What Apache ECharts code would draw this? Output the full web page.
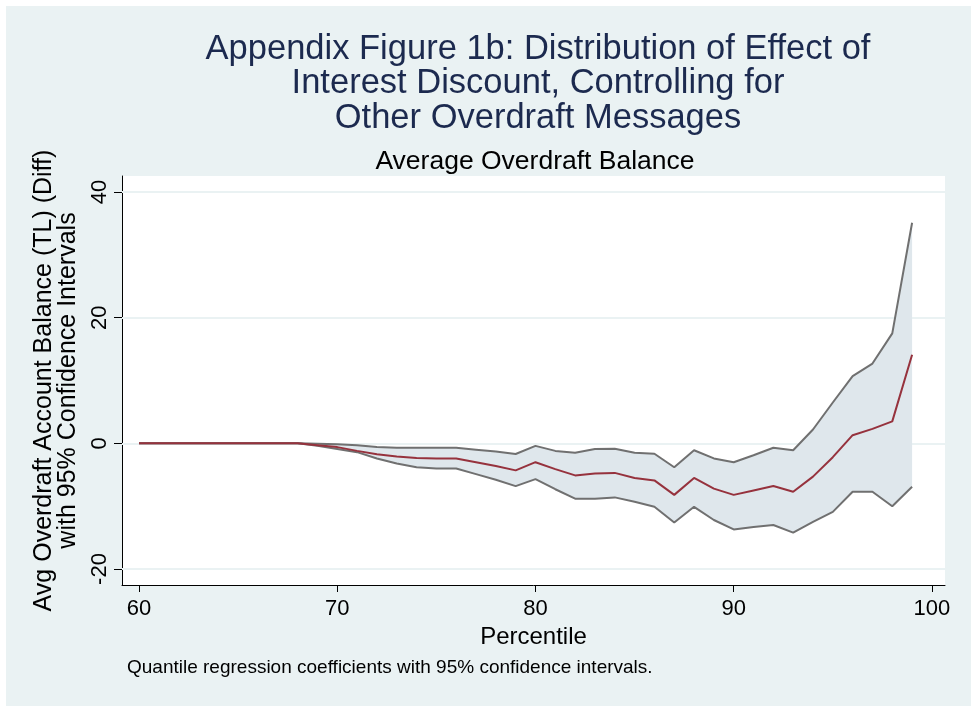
<!DOCTYPE html>
<html>
<head>
<meta charset="utf-8">
<script src="https://cdn.jsdelivr.net/npm/echarts@6/dist/echarts.min.js"></script>
<style>
html,body{margin:0;padding:0;background:#ffffff;}
#chart{width:971px;height:706px;}
</style>
</head>
<body>
<div id="chart"></div>
<script>
// Percentiles
const percentiles = [60,61,62,63,64,65,66,67,68,69,70,71,72,73,74,75,76,77,78,79,80,81,82,83,84,85,86,87,88,89,90,91,92,93,94,95,96,97,98,99];
// Quantile regression coefficient
const coef = [0,0,0,0,0,0,0,0,0,-0.3,-0.6,-1.2,-1.75,-2.1,-2.35,-2.4,-2.4,-3.0,-3.6,-4.3,-3.0,-4.1,-5.1,-4.8,-4.7,-5.5,-5.9,-8.2,-5.5,-7.2,-8.2,-7.5,-6.8,-7.7,-5.3,-2.2,1.3,2.3,3.5,14.1];
// Upper 95% CI
const upper = [0,0,0,0,0,0,0,0,0,-0.05,-0.16,-0.3,-0.6,-0.7,-0.7,-0.7,-0.7,-1.0,-1.3,-1.7,-0.4,-1.2,-1.5,-0.9,-0.85,-1.5,-1.65,-3.8,-1.1,-2.4,-3.0,-1.9,-0.7,-1.1,2.2,6.5,10.7,12.7,17.5,35.1];
// Lower 95% CI
const lower = [0,0,0,0,0,0,0,0,0,-0.4,-0.9,-1.4,-2.4,-3.2,-3.8,-4.0,-4.0,-4.9,-5.8,-6.8,-5.7,-7.3,-8.8,-8.8,-8.6,-9.3,-10.1,-12.6,-10.1,-12.2,-13.7,-13.3,-13.0,-14.2,-12.5,-10.9,-7.7,-7.7,-10.0,-6.9];
// Tick labels
const xTicks = [60,70,80,90,100];
const yTicks = [-20,0,20,40];

const FONT = 'Liberation Sans, Arial, sans-serif';
const pair = (arr) => percentiles.map((p,i) => [p, arr[i]]);

const chart = echarts.init(document.getElementById('chart'), null, {renderer:'canvas'});
chart.setOption({
  animation: false,
  backgroundColor: '#eaf2f3',
  textStyle: {fontFamily: FONT},
  title: [
    {
      text: 'Appendix Figure 1b: Distribution of Effect of\nInterest Discount, Controlling for\nOther Overdraft Messages',
      left: 533, top: 27, textAlign: 'center',
      textStyle: {fontFamily: FONT, fontSize: 34.5, fontWeight: 'normal', color: '#1c2a4f', lineHeight: 34.5}
    },
    {
      text: 'Average Overdraft Balance',
      left: 530, top: 143, textAlign: 'center',
      textStyle: {fontFamily: FONT, fontSize: 26.5, fontWeight: 'normal', color: '#000000'}
    }
  ],
  grid: {left: 122, right: 26, top: 176, bottom: 121, show: true, backgroundColor: '#ffffff', borderWidth: 0},
  xAxis: {
    type: 'value', min: 59.14, max: 100.66,
    name: 'Percentile', nameLocation: 'middle', nameGap: 39,
    nameTextStyle: {fontFamily: FONT, fontSize: 24, color: '#000'},
    axisLine: {show: true, onZero: false, lineStyle: {color: '#000', width: 1}},
    axisTick: {show: true, customValues: xTicks, length: 7, lineStyle: {color: '#000'}},
    axisLabel: {show: true, customValues: xTicks, fontFamily: FONT, fontSize: 22, color: '#000', margin: 13},
    splitLine: {show: false}
  },
  yAxis: {
    type: 'value', min: -22.54, max: 42.54,
    name: 'Avg Overdraft Account Balance (TL) (Diff)\nwith 95% Confidence Intervals',
    nameLocation: 'middle', nameRotate: 90, nameGap: 42,
    nameTextStyle: {fontFamily: FONT, fontSize: 25, color: '#000', lineHeight: 24},
    axisLine: {show: true, onZero: false, lineStyle: {color: '#000', width: 1}},
    axisTick: {show: true, customValues: yTicks, length: 8, lineStyle: {color: '#000'}},
    axisLabel: {show: true, customValues: yTicks, rotate: 90, fontFamily: FONT, fontSize: 22, color: '#000', margin: 11},
    splitLine: {show: false}
  },
  series: [
    {
      type: 'custom', name: 'band', silent: true, z: 2,
      data: [0],
      clip: true,
      renderItem: function (params, api) {
        const pts = [];
        for (let i = 0; i < percentiles.length; i++) pts.push(api.coord([percentiles[i], upper[i]]));
        for (let i = percentiles.length - 1; i >= 0; i--) pts.push(api.coord([percentiles[i], lower[i]]));
        return {type: 'polygon', shape: {points: pts}, style: {fill: '#dfe7ec', stroke: 'none'}};
      },
      markLine: {
        silent: true, symbol: 'none', z: 1, label: {show: false},
        lineStyle: {color: '#eaf2f3', width: 2, type: 'solid'},
        data: yTicks.map(v => ({yAxis: v}))
      }
    },
    {
      type: 'line', name: 'upper', data: pair(upper), symbol: 'none',
      lineStyle: {color: '#707070', width: 2}, z: 3
    },
    {
      type: 'line', name: 'lower', data: pair(lower), symbol: 'none',
      lineStyle: {color: '#707070', width: 2}, z: 3
    },
    {
      type: 'line', name: 'coef', data: pair(coef), symbol: 'none',
      lineStyle: {color: '#96323d', width: 2}, z: 4
    }
  ],
  graphic: [
    {
      type: 'text', left: 127, top: 658,
      style: {text: 'Quantile regression coefficients with 95% confidence intervals.', fontFamily: FONT, fontSize: 19, fill: '#000'}
    },
    {
      type: 'rect', left: 0, top: 0, shape: {x: 0, y: 0, width: 971, height: 706},
      style: {fill: 'none', stroke: '#ffffff', lineWidth: 6}, silent: true
    }
  ]
});
</script>
</body>
</html>
